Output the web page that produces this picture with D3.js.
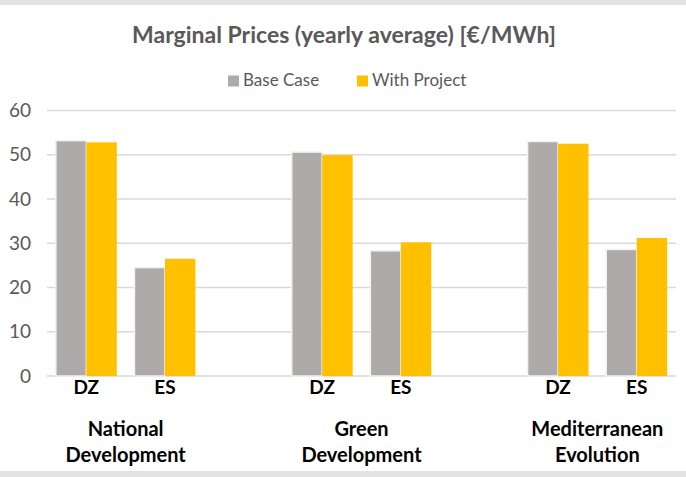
<!DOCTYPE html>
<html>
<head>
<meta charset="utf-8">
<script src="https://cdn.jsdelivr.net/npm/d3@7"></script>
<style>
  body { margin: 0; background: #fff; }
  svg { display: block; font-family: Lato, "Open Sans", sans-serif; }
</style>
</head>
<body>
<div id="chart"></div>
<script>
// data
const scenarios = ['National Development', 'Green Development', 'Mediterranean Evolution'];
const scenarioLines = [['National', 'Development'], ['Green', 'Development'], ['Mediterranean', 'Evolution']];
const countries = ['DZ', 'ES'];
const seriesNames = ['Base Case', 'With Project'];
const baseCase = [53.2, 24.5, 50.6, 28.3, 53.0, 28.6];
const withProject = [52.8, 26.5, 49.9, 30.2, 52.5, 31.2];
const yTicks = [0, 10, 20, 30, 40, 50, 60];

const width = 686;
const height = 477;
const colors = ['#AEAAAA', '#FFC000'];

// slots: DZ, ES, gap, DZ, ES, gap, DZ, ES
const slots = [];
const rows = [];
scenarios.forEach((s, i) => {
    countries.forEach((c, j) => {
        const k = i * 2 + j;
        slots.push(s + '|' + c);
        rows.push({ key: s + '|' + c, scenario: s, country: c, values: [baseCase[k], withProject[k]] });
    });
    if (i < scenarios.length - 1) slots.push('gap' + i);
});

const svg = d3.select('#chart')
    .append('svg')
    .attr('width', width)
    .attr('height', height);

// screenshot frame strips
svg.append('rect').attr('x', 0).attr('y', 0).attr('width', width).attr('height', 5).attr('fill', '#e2e2e2');
svg.append('rect').attr('x', 0).attr('y', 471).attr('width', width).attr('height', 6).attr('fill', '#e3e3e3');

const xScale = d3.scaleBand()
    .domain(slots)
    .range([47, 676])
    .paddingInner(0.225)
    .paddingOuter(0.1125);

const xSub = d3.scaleBand()
    .domain(seriesNames)
    .range([0, xScale.bandwidth()]);

const yScale = d3.scaleLinear()
    .domain([0, 60])
    .range([376, 110.5]);

// gridlines
svg.append('g')
    .selectAll('line')
    .data(yTicks)
    .enter()
    .append('line')
    .attr('x1', 47)
    .attr('x2', 676)
    .attr('y1', d => yScale(d))
    .attr('y2', d => yScale(d))
    .attr('stroke', '#d9d9d9')
    .attr('stroke-width', 1.5);

// y labels
svg.append('g')
    .selectAll('text')
    .data(yTicks)
    .enter()
    .append('text')
    .attr('x', 31)
    .attr('y', d => yScale(d))
    .attr('dy', '0.35em')
    .attr('text-anchor', 'end')
    .attr('fill', '#595959')
    .style('font-size', '19px')
    .text(d => d);

// bars
const groups = svg.append('g')
    .selectAll('g')
    .data(rows)
    .enter()
    .append('g')
    .attr('transform', d => `translate(${xScale(d.key)},0)`);

groups.selectAll('rect')
    .data(d => d.values.map((v, i) => ({ name: seriesNames[i], value: v, i })))
    .enter()
    .append('rect')
    .attr('x', d => xSub(d.name))
    .attr('y', d => yScale(d.value))
    .attr('width', xSub.bandwidth())
    .attr('height', d => yScale(0) - yScale(d.value))
    .attr('fill', d => colors[d.i])
    .attr('stroke', d => d.i === 0 ? '#f2f2f2' : 'none')
    .attr('stroke-width', 1.5);

// country labels
groups.append('text')
    .attr('x', xScale.bandwidth() / 2)
    .attr('y', 394)
    .attr('text-anchor', 'middle')
    .attr('fill', '#000')
    .style('font-size', '19px')
    .style('font-weight', 'bold')
    .text(d => d.country);

// scenario labels, centred under each DZ/ES pair
const pairCenter = d => (xScale(d + '|DZ') + xScale(d + '|ES') + xScale.bandwidth()) / 2;

const scen = svg.append('g')
    .selectAll('text')
    .data(scenarios)
    .enter()
    .append('text')
    .attr('text-anchor', 'middle')
    .attr('fill', '#000')
    .style('font-size', '20px')
    .style('font-weight', 'bold');

scen.selectAll('tspan')
    .data((d, i) => scenarioLines[i].map((t, j) => ({ t, j, x: pairCenter(d) })))
    .enter()
    .append('tspan')
    .attr('x', d => d.x)
    .attr('y', d => 436 + d.j * 26)
    .text(d => d.t);

// title
svg.append('text')
    .attr('x', 344)
    .attr('y', 43)
    .attr('text-anchor', 'middle')
    .attr('fill', '#595959')
    .style('font-size', '23px')
    .style('font-weight', 'bold')
    .text('Marginal Prices (yearly average) [€/MWh]');

// legend
const legendX = [228, 357];
const legend = svg.append('g')
    .selectAll('g')
    .data(seriesNames)
    .enter()
    .append('g')
    .attr('transform', (d, i) => `translate(${legendX[i]},0)`);

legend.append('rect')
    .attr('x', 0)
    .attr('y', 75.5)
    .attr('width', 11)
    .attr('height', 11)
    .attr('fill', (d, i) => colors[i]);

legend.append('text')
    .attr('x', 15)
    .attr('y', 86)
    .attr('fill', '#595959')
    .style('font-size', '17px')
    .text(d => d);
</script>
</body>
</html>
